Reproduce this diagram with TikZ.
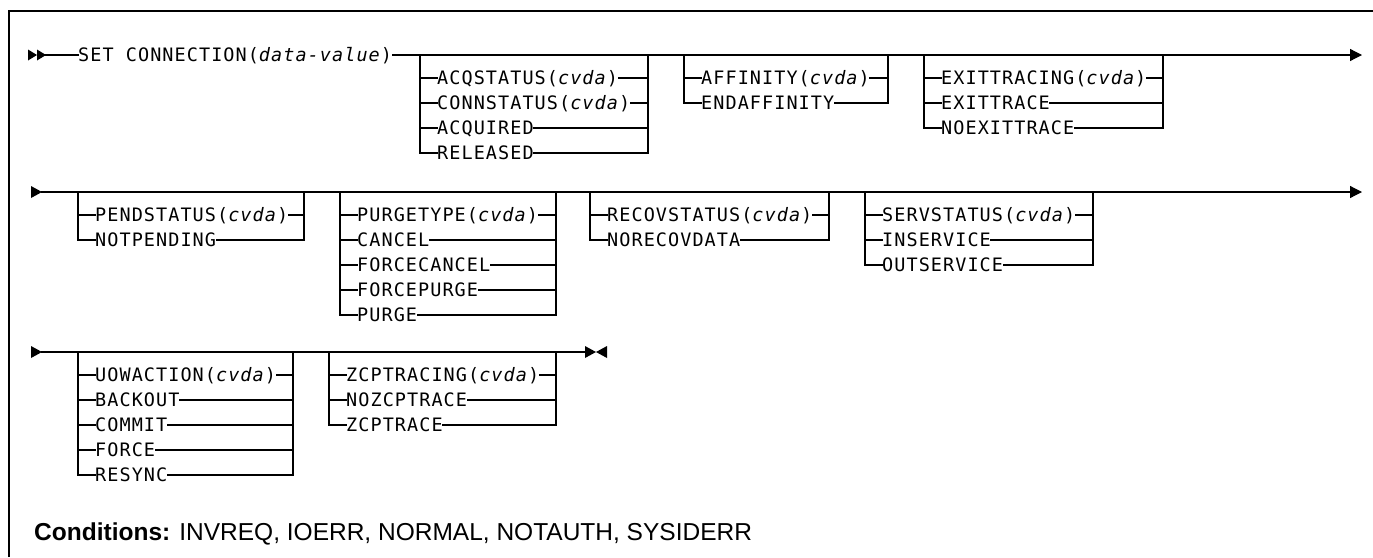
\documentclass[tikz,border=0pt]{standalone}
\usepackage{fontspec}
\setmainfont{Liberation Sans}
\newfontfamily\railfont[LetterSpace=5.7]{DejaVu Sans Mono}
\usetikzlibrary{arrows.meta}
\tikzset{
  rail/.style={line width=1.2pt, line cap=rect},
  item/.style={font=\railfont\fontsize{18.5}{20}\selectfont, inner sep=0pt, anchor=base west},
  endtip/.style={-{Triangle[length=12pt,width=12pt]}},
}
% #1 name, #2 left bar x, #3 right bar x, #4 main line y, #5 number of items, #6 items
\newcommand\railgrp[6]{%
  \draw[rail] (#2,#4) -- (#2,{#4+23+25*(#5-1)});
  \draw[rail] (#3,#4) -- (#3,{#4+23+25*(#5-1)});
  \foreach \itm [count=\k] in {#6} {
    \pgfmathsetmacro\yy{#4+23+25*(\k-1)}
    \coordinate (#1L\k) at (#2,\yy);
    \coordinate (#1R\k) at (#3,\yy);
    \node[item] (#1\k) at (#2+17,\yy+6.7) {\itm};
    \draw[rail] (#1L\k) -- (#1\k.west |- #1L\k);
    \draw[rail] (#1\k.east |- #1R\k) -- (#1R\k);
  }
}
\begin{document}
\begin{tikzpicture}[x=1pt,y=-1pt]
\useasboundingbox (0,0) rectangle (1373,557);
% frame
\draw[line width=1.5pt] (9,557) -- (9,11) -- (1373,11);

% row 1
\fill (28,49.5) -- (37,55) -- (28,60.5) -- cycle;
\fill (37,49.5) -- (46,55) -- (37,60.5) -- cycle;
\coordinate (s1) at (46,55);
\coordinate (e1) at (1362,55);
\node[item] (set) at (78,61.7) {SET CONNECTION(\textit{data-value})};
\draw[rail] (s1) -- (set.west |- s1);
\draw[rail,endtip] (set.east |- s1) -- (e1);
\railgrp{a}{420}{648}{55}{4}{ACQSTATUS(\textit{cvda}),CONNSTATUS(\textit{cvda}),ACQUIRED,RELEASED}
\railgrp{b}{684}{888}{55}{2}{AFFINITY(\textit{cvda}),ENDAFFINITY}
\railgrp{c}{924}{1163}{55}{3}{EXITTRACING(\textit{cvda}),EXITTRACE,NOEXITTRACE}

% row 2
\fill (31,186) -- (42,192) -- (31,198) -- cycle;
\coordinate (s2) at (42,192);
\coordinate (e2) at (1362,192);
\draw[rail,endtip] (s2) -- (e2);
\railgrp{d}{78}{304}{192}{2}{PENDSTATUS(\textit{cvda}),NOTPENDING}
\railgrp{e}{340}{556}{192}{5}{PURGETYPE(\textit{cvda}),CANCEL,FORCECANCEL,FORCEPURGE,PURGE}
\railgrp{f}{590}{829}{192}{2}{RECOVSTATUS(\textit{cvda}),NORECOVDATA}
\railgrp{g}{865}{1093}{192}{3}{SERVSTATUS(\textit{cvda}),INSERVICE,OUTSERVICE}

% row 3
\fill (31,346) -- (42,352) -- (31,358) -- cycle;
\coordinate (s3) at (42,352);
\coordinate (e3) at (585,352);
\draw[rail] (s3) -- (e3);
\fill (585,346) -- (596,352) -- (585,358) -- cycle;
\fill (607,346) -- (596,352) -- (607,358) -- cycle;
\railgrp{h}{78}{293}{352}{5}{UOWACTION(\textit{cvda}),BACKOUT,COMMIT,FORCE,RESYNC}
\railgrp{i}{329}{556}{352}{3}{ZCPTRACING(\textit{cvda}),NOZCPTRACE,ZCPTRACE}

% conditions
\node[anchor=base west, inner sep=0pt, font=\fontsize{24.5}{28}\selectfont] (cond) at (34,540)
  {\textbf{Conditions:} INVREQ, IOERR, NORMAL, NOTAUTH, SYSIDERR};
\end{tikzpicture}
\end{document}
